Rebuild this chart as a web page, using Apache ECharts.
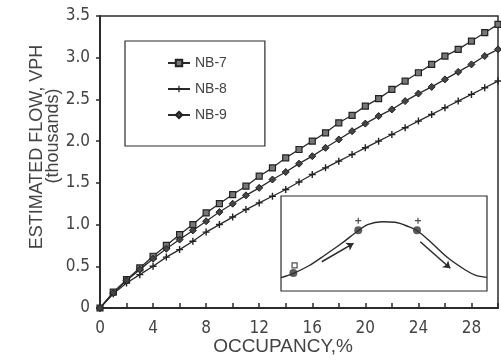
<!DOCTYPE html>
<html><head><meta charset="utf-8">
<script src="https://cdn.jsdelivr.net/npm/echarts@6/dist/echarts.min.js"></script>
<style>html,body{margin:0;padding:0;background:#fff}#c{width:501px;height:364px}</style>
</head><body><div id="c"></div>
<script>
// Main chart data (occupancy %, estimated flow in thousands VPH)
const occupancy = [0,1,2,3,4,5,6,7,8,9,10,11,12,13,14,15,16,17,18,19,20,21,22,23,24,25,26,27,28,29,30];
const nb7 = [0,0.19,0.34,0.48,0.62,0.75,0.88,1.00,1.14,1.25,1.36,1.46,1.58,1.68,1.80,1.90,2.00,2.10,2.22,2.31,2.42,2.51,2.62,2.72,2.82,2.92,3.02,3.10,3.20,3.30,3.40];
const nb8 = [0,0.17,0.30,0.40,0.50,0.61,0.70,0.80,0.91,1.00,1.09,1.18,1.26,1.34,1.42,1.51,1.60,1.68,1.76,1.84,1.92,2.00,2.08,2.16,2.24,2.32,2.40,2.48,2.56,2.64,2.72];
const nb9 = [0,0.18,0.33,0.46,0.59,0.71,0.82,0.93,1.04,1.15,1.25,1.35,1.44,1.54,1.63,1.73,1.82,1.92,2.02,2.12,2.21,2.30,2.38,2.48,2.57,2.65,2.74,2.83,2.92,3.02,3.10];
const seriesNames = ['NB-7','NB-8','NB-9'];
const xTickLabels = [0,4,8,12,16,20,24,28];

// Inset schematic (relative occupancy vs relative flow, 0-100)
const insetX = [0,6,13.3,21.4,29.5,36.8,42.4,49,55.4,61.9,66.8,73.3,81.3,89.5,94.3,100];
const insetY = [14,18.6,26.3,37.9,50.2,62.4,70.2,72.9,72.3,67.7,62.4,50.2,34.4,22.1,16.8,14.4];
const insetDots = [[6,19],[37.5,64],[66,64]];
const insetSquares = [[6.6,27]];
const insetPluses = [[37.5,74],[66.5,74]];
const insetArrows = [[[19.8,30.8],[35.2,50.2]],[[67.6,51.9],[82.2,23.9]]];

const FONT_N = '"Liberation Sans Narrow","DejaVu Sans Condensed",sans-serif';
const FONT = '"Liberation Sans","DejaVu Sans",sans-serif';
const INK = '#2b2b2b';
const TXT = '#444';
const PLUS = 'path://M2,0H3V2H5V3H3V5H2V3H0V2H2Z';

const pairs = ys => occupancy.map((x,i)=>[x, ys[i]]);

const chart = echarts.init(document.getElementById('c'), null, {renderer:'canvas'});
chart.setOption({
  animation:false,
  backgroundColor:'#fff',
  grid:[
    {left:100, right:1, top:16, bottom:56, show:true, borderColor:INK, borderWidth:1.5, backgroundColor:'transparent'},
    {left:281, top:196, width:206, height:95, show:true, borderColor:INK, borderWidth:1.2, backgroundColor:'#fff', z:5}
  ],
  legend:{
    orient:'vertical', left:125, top:41,
    data:seriesNames,
    itemWidth:22, itemHeight:8, itemGap:12,
    padding:[15,38,24,42],
    borderColor:INK, borderWidth:1.2,
    textStyle:{fontFamily:FONT, fontSize:14, color:TXT, lineHeight:14}
  },
  xAxis:[
    {type:'value', gridIndex:0, min:0, max:30, interval:2,
     axisLine:{show:true, onZero:false, lineStyle:{color:INK, width:2}},
     axisTick:{show:true, inside:true, length:5, lineStyle:{color:INK, width:1.5}},
     splitLine:{show:false},
     axisLabel:{margin:12, fontFamily:FONT_N, fontSize:17, color:TXT,
       formatter:v => xTickLabels.indexOf(v) >= 0 ? String(v) : ''}},
    {type:'value', gridIndex:1, min:0, max:100, show:false}
  ],
  yAxis:[
    {type:'value', gridIndex:0, min:0, max:3.5, interval:0.5,
     axisLine:{show:true, onZero:false, lineStyle:{color:INK, width:2}},
     axisTick:{show:true, inside:false, length:4, lineStyle:{color:INK, width:1.5}},
     splitLine:{show:false},
     axisLabel:{margin:10, fontFamily:FONT_N, fontSize:17, color:TXT,
       formatter:v => v === 0 ? '0' : v.toFixed(1)}},
    {type:'value', gridIndex:1, min:0, max:100, show:false}
  ],
  series:[
    {name:'NB-7', type:'line', data:pairs(nb7), symbol:'rect', symbolSize:6,
     itemStyle:{color:'#777', borderColor:'#222', borderWidth:1.2},
     lineStyle:{color:INK, width:1.3}},
    {name:'NB-8', type:'line', data:pairs(nb8), symbol:PLUS, symbolSize:7,
     itemStyle:{color:'#222'}, lineStyle:{color:INK, width:1.3}},
    {name:'NB-9', type:'line', data:pairs(nb9), symbol:'diamond', symbolSize:7,
     itemStyle:{color:'#444', borderColor:'#222', borderWidth:1},
     lineStyle:{color:INK, width:1.3}},
    {type:'line', xAxisIndex:1, yAxisIndex:1, smooth:0.35, showSymbol:false, z:6,
     data:insetX.map((x,i)=>[x, insetY[i]]), lineStyle:{color:INK, width:1.4}, silent:true},
    {type:'scatter', xAxisIndex:1, yAxisIndex:1, z:7, data:insetDots, symbolSize:8,
     itemStyle:{color:'#333'}, silent:true},
    {type:'scatter', xAxisIndex:1, yAxisIndex:1, z:7, data:insetSquares, symbol:'rect', symbolSize:5,
     itemStyle:{color:'#fff', borderColor:'#222', borderWidth:1.2}, silent:true},
    {type:'scatter', xAxisIndex:1, yAxisIndex:1, z:7, data:insetPluses, symbol:PLUS, symbolSize:6,
     itemStyle:{color:'#222'}, silent:true},
    {type:'lines', coordinateSystem:'cartesian2d', xAxisIndex:1, yAxisIndex:1, z:7,
     data:insetArrows.map(c=>({coords:c})), symbol:['none','arrow'], symbolSize:7,
     lineStyle:{color:INK, width:1.5, opacity:1}, silent:true}
  ],
  graphic:[
    {type:'text', x:37, y:147, rotation:Math.PI/2,
     style:{text:'ESTIMATED FLOW, VPH', x:0, y:0, align:'center', verticalAlign:'middle', fill:TXT, font:'18px '+FONT}},
    {type:'text', x:53, y:136, rotation:Math.PI/2,
     style:{text:'(thousands)', x:0, y:0, align:'center', verticalAlign:'middle', fill:TXT, font:'18px '+FONT}},
    {type:'text', x:283, y:347,
     style:{text:'OCCUPANCY,%', x:0, y:0, align:'center', verticalAlign:'middle', fill:TXT, font:'19px '+FONT}}
  ]
});
</script></body></html>
